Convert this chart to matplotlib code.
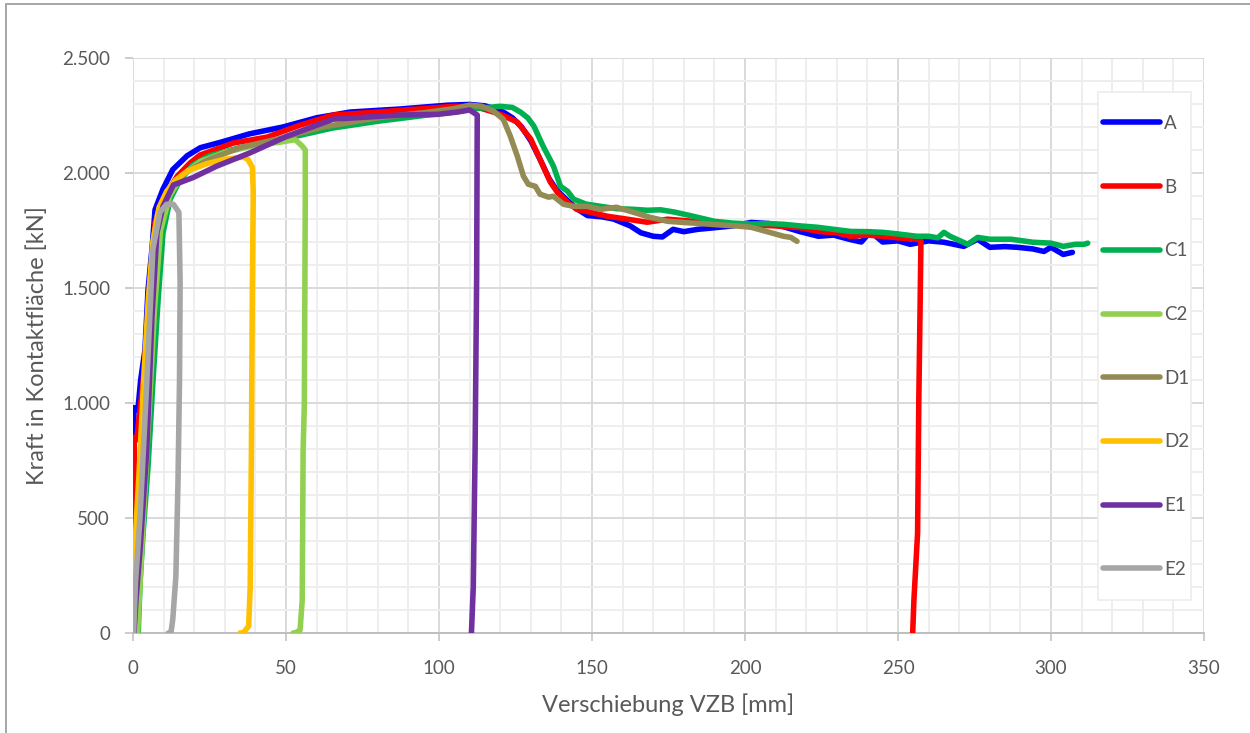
import matplotlib
matplotlib.use("Agg")
import matplotlib.pyplot as plt
from matplotlib.ticker import MultipleLocator, FuncFormatter
from matplotlib.patches import Rectangle

# Load-displacement curves (x: displacement in mm, y: force in kN)
labels = ["A", "B", "C1", "C2", "D1", "D2", "E1", "E2"]
colors = ["#0000FF", "#FF0000", "#00B050", "#92D050", "#948A54", "#FFC000", "#7030A0", "#A6A6A6"]

a_x = [0.3, 0.3, 1.6, 2.5, 3.9, 4.9, 6.2, 7.2, 9.8, 13, 17.7, 22, 29, 38, 49, 60, 71, 87, 103, 110,
       115, 118, 121, 124, 127, 130, 133, 136, 138.5, 142, 145, 148.5, 153, 157, 162.5, 166, 170, 173,
       176.5, 180, 184.5, 190, 196, 202, 208, 213, 218, 224, 229, 234, 238, 241, 245, 250, 254, 260,
       265, 271.5, 276, 280, 285, 289, 294, 297.7, 300, 304, 307]
a_y = [0, 980, 970, 1100, 1230, 1490, 1670, 1840, 1930, 2015, 2075, 2110, 2135, 2170, 2200, 2240, 2265,
       2278, 2295, 2298, 2292, 2280, 2265, 2240, 2200, 2140, 2060, 1975, 1925, 1880, 1845, 1815, 1810,
       1800, 1770, 1740, 1725, 1722, 1755, 1745, 1755, 1762, 1770, 1785, 1780, 1765, 1745, 1725, 1730,
       1712, 1700, 1745, 1700, 1705, 1690, 1705, 1699, 1681, 1712, 1677, 1680, 1677, 1670, 1659, 1677,
       1646, 1655]

b_x = [0.3, 0.4, 1.2, 3.3, 4.9, 6.2, 7.2, 9.8, 14.4, 18.6, 21.9, 32.7, 43.8, 54.6, 65.4, 80, 95, 105,
       112, 117.8, 121, 125.6, 130, 133, 136.4, 138.7, 142, 145, 149.5, 155, 161.6, 168, 174.7, 183,
       190, 200, 210, 218, 224, 230, 234.5, 240, 245, 250, 256.4, 257.5, 257.2, 256.8, 256.4, 255.2, 254.8]
b_y = [0, 850, 840, 1089, 1375, 1593, 1785, 1885, 1985, 2043, 2078, 2130, 2156, 2208, 2252, 2265, 2280,
       2290, 2288, 2265, 2250, 2221, 2147, 2060, 1960, 1916, 1873, 1842, 1829, 1812, 1799, 1786, 1799,
       1790, 1780, 1775, 1770, 1762, 1746, 1740, 1725, 1730, 1725, 1718, 1712, 1705, 1400, 1013, 434,
       143, 0]

c1_x = [1.7, 2.3, 3.3, 4.9, 6.5, 8.2, 9.8, 12.1, 15.4, 19.6, 25, 35, 50, 65, 80, 95, 105, 112, 120,
        124, 126.6, 129, 131, 134, 137.4, 139.7, 142, 144, 148, 152.8, 158, 163.6, 168, 172.4, 177,
        183, 190, 196, 202, 208, 212.6, 218, 223.7, 229, 234.5, 240, 245, 250, 256, 260, 263, 265, 267,
        272.8, 276, 280, 287, 294, 300, 304, 308, 310.8, 312]
c1_y = [0, 218, 435, 722, 1089, 1448, 1739, 1885, 1970, 2035, 2075, 2110, 2150, 2195, 2225, 2250, 2265,
        2280, 2290, 2285, 2265, 2240, 2204, 2117, 2030, 1942, 1921, 1886, 1865, 1855, 1845, 1842, 1838,
        1840, 1830, 1812, 1790, 1782, 1778, 1780, 1777, 1770, 1764, 1755, 1746, 1745, 1742, 1735, 1725,
        1725, 1718, 1742, 1725, 1690, 1720, 1712, 1712, 1699, 1695, 1681, 1690, 1690, 1695]

c2_x = [1.5, 3, 5, 7, 9, 12, 16, 22, 30, 40, 48, 53, 55.3, 56.3, 56.3, 56, 55.6, 55.3, 54.6, 53, 52.3]
c2_y = [0, 400, 900, 1400, 1750, 1900, 1990, 2050, 2090, 2120, 2134, 2145, 2117, 2100, 1886, 1000, 797,
        143, 13, 0, 0]

d1_x = [0.3, 1, 2, 3.5, 5, 6.5, 8, 10, 13, 18, 25, 35, 48, 62, 80, 95, 105, 110, 114, 117.8, 121,
        123.3, 125.6, 127.6, 129.2, 131.5, 133, 135.8, 137.4, 140.7, 144, 148.5, 152.8, 158, 163.6, 169,
        174.7, 180, 185.5, 191, 197, 202, 208, 212.6, 215, 217]
d1_y = [0, 300, 600, 1000, 1400, 1700, 1820, 1880, 1950, 2010, 2060, 2110, 2150, 2200, 2240, 2262,
        2280, 2295, 2290, 2269, 2234, 2160, 2073, 1986, 1951, 1942, 1908, 1895, 1899, 1864, 1855, 1855,
        1842, 1851, 1829, 1807, 1790, 1785, 1780, 1775, 1770, 1764, 1742, 1725, 1720, 1703]

d2_x = [0.2, 0.5, 2, 3.5, 5, 6.5, 8.5, 11, 14, 18, 24, 30, 36, 37.5, 39, 39.3, 39, 38.7, 38.3, 37.8, 36, 35]
d2_y = [0, 350, 700, 1100, 1450, 1700, 1850, 1920, 1970, 2010, 2040, 2060, 2069, 2060, 2025, 1916,
        1494, 800, 200, 30, 0, 0]

e1_x = [0.3, 1, 2.3, 4.5, 6.2, 7.8, 9.8, 13.2, 19.6, 27.4, 38.3, 50.3, 65.4, 87.3, 99.5, 106, 110,
        112.5, 112.3, 111.8, 111.2, 110.6]
e1_y = [0, 150, 361, 797, 1375, 1739, 1855, 1948, 1980, 2030, 2088, 2160, 2234, 2252, 2255, 2265, 2274,
        2252, 1537, 800, 200, 0]

e2_x = [0.2, 0.8, 2.3, 4.5, 6.5, 8.8, 11, 13.2, 15, 15.4, 15.2, 14.7, 14, 13, 12.4, 11.5]
e2_y = [0, 218, 505, 1089, 1668, 1829, 1864, 1864, 1829, 1524, 1100, 653, 244, 60, 0, 0]

series_x = [a_x, b_x, c1_x, c2_x, d1_x, d2_x, e1_x, e2_x]
series_y = [a_y, b_y, c1_y, c2_y, d1_y, d2_y, e1_y, e2_y]

x_max, y_max = 350, 2500
x_major, x_minor = 50, 10
y_major, y_minor = 500, 100

plt.rcParams["font.family"] = ["Lato", "DejaVu Sans"]
text_color = "#595959"

W, H = 1250, 733
fig = plt.figure(figsize=(W / 100, H / 100), dpi=100)
ax = fig.add_axes([133 / W, 1 - 633 / H, 1071 / W, 575 / H])

for i, (xs, ys) in enumerate(zip(series_x, series_y)):
    ax.plot(xs, ys, color=colors[i], lw=4.0, label=labels[i],
            solid_capstyle="round", solid_joinstyle="round", zorder=3 + i)

ax.set_xlim(0, x_max)
ax.set_ylim(0, y_max)
ax.xaxis.set_major_locator(MultipleLocator(x_major))
ax.xaxis.set_minor_locator(MultipleLocator(x_minor))
ax.yaxis.set_major_locator(MultipleLocator(y_major))
ax.yaxis.set_minor_locator(MultipleLocator(y_minor))
ax.yaxis.set_major_formatter(FuncFormatter(lambda v, p: f"{int(v):,}".replace(",", ".")))

ax.grid(which="major", color="#d9d9d9", lw=1.4, zorder=1)
ax.grid(which="minor", color="#eeeeee", lw=1.4, zorder=0)
ax.set_axisbelow(True)

for side in ["top", "right", "left"]:
    ax.spines[side].set_visible(False)
ax.spines["bottom"].set_color("#bfbfbf")
ax.spines["bottom"].set_linewidth(1.4)

ax.tick_params(axis="both", which="major", length=5.5, width=1.1, color="#bfbfbf",
               labelsize=13.5, labelcolor=text_color)
ax.tick_params(axis="x", which="major", pad=14)
ax.tick_params(axis="y", which="major", pad=11)
ax.tick_params(axis="both", which="minor", length=0)

ax.set_xlabel("Verschiebung VZB [mm]", fontsize=17, color=text_color, labelpad=12)
ax.set_ylabel("Kraft in Kontaktfläche [kN]", fontsize=17, color=text_color, labelpad=10)

# legend box, drawn as a separate frame behind the legend entries
ax.add_patch(Rectangle(((1098 - 133) / 1071, (633 - 600) / 575), 93 / 1071, 508 / 575,
                       transform=ax.transAxes, facecolor="white", edgecolor="#ececec",
                       lw=1.2, zorder=19, clip_on=False))
leg = ax.legend(loc="upper left", bbox_to_anchor=((1103 - 133) / 1071, (633 - 115) / 575),
                fontsize=13.5, frameon=False, handlelength=3.05, handletextpad=0.2,
                labelspacing=2.49, borderpad=0, borderaxespad=0)
for t in leg.get_texts():
    t.set_color(text_color)
leg.set_zorder(20)

# figure frame
fig.patches.append(Rectangle((6 / W, -0.05), 1.2, 1 - 4 / H + 0.05, transform=fig.transFigure,
                             fill=False, edgecolor="#a6a6a6", lw=1.4))

fig.savefig("out.png", dpi=100, facecolor="white")
